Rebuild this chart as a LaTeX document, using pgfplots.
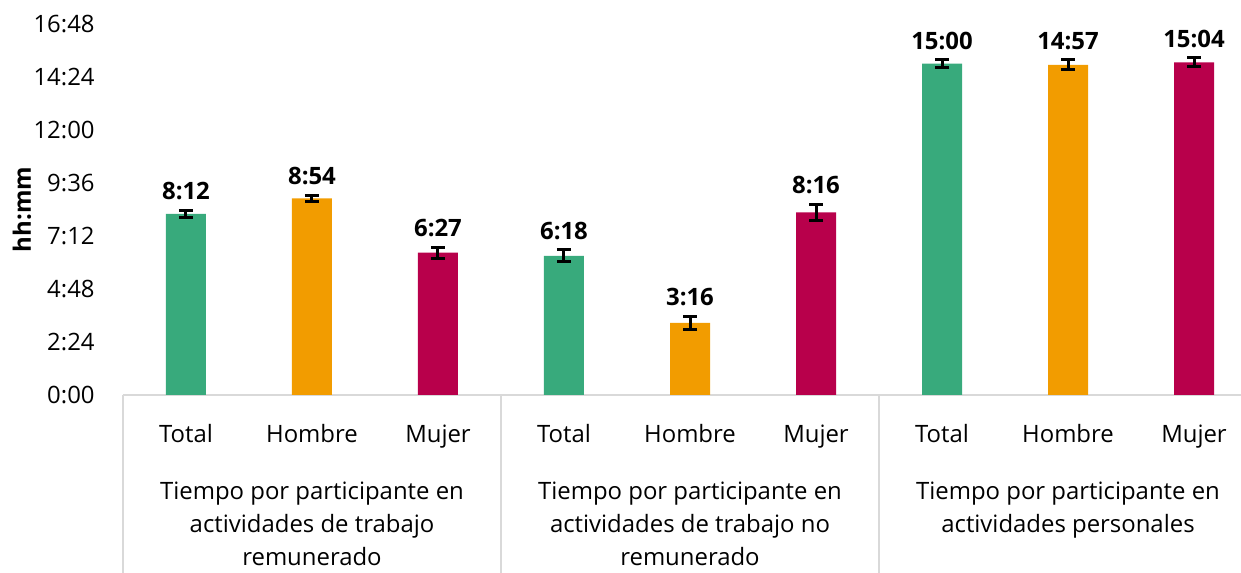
\documentclass[border=0pt]{standalone}
\usepackage{pgfplots}
\pgfplotsset{compat=1.18}
\usepackage{pgfplotstable}
\usepackage{fontspec}
\setmainfont{Open Sans}

\definecolor{cgreen}{HTML}{38AA7C}
\definecolor{corange}{HTML}{F29C00}
\definecolor{cred}{HTML}{B8004B}
\definecolor{lgray}{HTML}{D9D9D9}

% hours as decimals, e = half-width of the error bar
\pgfplotstableread{
x y e lab
0 8.2 0.16 8:12
3 6.3 0.27 6:18
6 15.0 0.17 15:00
}\total
\pgfplotstableread{
x y e lab
1 8.9 0.15 8:54
4 3.267 0.30 3:16
7 14.95 0.23 14:57
}\hombre
\pgfplotstableread{
x y e lab
2 6.45 0.25 6:27
5 8.267 0.38 8:16
8 15.067 0.20 15:04
}\mujer

\pgfplotsset{
  barstyle/.style={ybar, bar width=20bp, bar shift=0pt, fill=#1, draw=none,
    error bars/.cd, y dir=both, y explicit},
  labstyle/.style={draw=none, mark=none, nodes near coords, point meta=explicit symbolic},
}

\begin{document}
\begin{tikzpicture}[font=\fontsize{12}{15}\selectfont]
\begin{axis}[
  name=ax,
  scale only axis,
  width=559bp, height=185.5bp,
  xmin=-0.5, xmax=8.373,
  ymin=0, ymax=16.8,
  clip=false,
  separate axis lines,
  axis x line*=bottom, axis y line*=left,
  x axis line style={draw=lgray, line width=1bp},
  y axis line style={draw=none},
  major tick length=0pt,
  ytick={0,2.4,4.8,7.2,9.6,12,14.4,16.8},
  yticklabels={0:00,2:24,4:48,7:12,9:36,12:00,14:24,16:48},
  yticklabel style={anchor=east, inner sep=0pt, xshift=-14bp},
  xtick={0,...,8},
  xticklabels={Total,Hombre,Mujer,Total,Hombre,Mujer,Total,Hombre,Mujer},
  xticklabel style={anchor=base, inner sep=0pt, yshift=-24bp},
  ylabel={\bfseries hh:mm},
  ylabel style={at={(axis description cs:0,0.5)}, anchor=center, yshift=50.5bp},
  error bars/error bar style={line width=1.5bp, black},
  error bars/error mark=-,
  error bars/error mark options={rotate=90, line width=1.5bp, mark size=3.5bp, black},
  nodes near coords style={anchor=south, inner sep=0pt, yshift=5bp, font=\fontsize{12}{15}\selectfont\bfseries},
]
\addplot[barstyle=cgreen] table[x=x, y=y, y error=e] {\total};
\addplot[barstyle=corange] table[x=x, y=y, y error=e] {\hombre};
\addplot[barstyle=cred] table[x=x, y=y, y error=e] {\mujer};

% value labels sit above the error bars
\addplot[labstyle] table[x=x, y expr=\thisrow{y}+\thisrow{e}, meta=lab] {\total};
\addplot[labstyle] table[x=x, y expr=\thisrow{y}+\thisrow{e}, meta=lab] {\hombre};
\addplot[labstyle] table[x=x, y expr=\thisrow{y}+\thisrow{e}, meta=lab] {\mujer};

% group separators
\draw[lgray, line width=1bp] (axis cs:-0.5,0) -- ++(0pt,-89bp);
\draw[lgray, line width=1bp] (axis cs:2.5,0) -- ++(0pt,-89bp);
\draw[lgray, line width=1bp] (axis cs:5.5,0) -- ++(0pt,-89bp);

\path (axis cs:1,0) node[anchor=base, inner sep=0pt, yshift=-52.5bp] {Tiempo por participante en}
      (axis cs:1,0) node[anchor=base, inner sep=0pt, yshift=-69bp] {actividades de trabajo}
      (axis cs:1,0) node[anchor=base, inner sep=0pt, yshift=-85.5bp] {remunerado};
\path (axis cs:4,0) node[anchor=base, inner sep=0pt, yshift=-52.5bp] {Tiempo por participante en}
      (axis cs:4,0) node[anchor=base, inner sep=0pt, yshift=-69bp] {actividades de trabajo no}
      (axis cs:4,0) node[anchor=base, inner sep=0pt, yshift=-85.5bp] {remunerado};
\path (axis cs:7,0) node[anchor=base, inner sep=0pt, yshift=-52.5bp] {Tiempo por participante en}
      (axis cs:7,0) node[anchor=base, inner sep=0pt, yshift=-69bp] {actividades personales};
\end{axis}
\pgfresetboundingbox
\path[use as bounding box] ([xshift=-61.5bp,yshift=-89bp]ax.south west) rectangle ([yshift=12bp]ax.north east);
\end{tikzpicture}
\end{document}
